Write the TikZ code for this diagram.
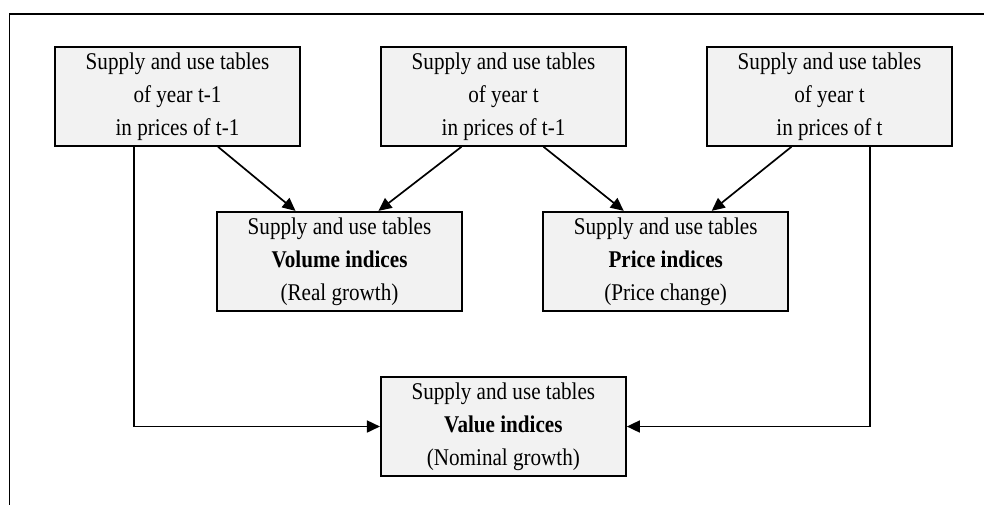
\documentclass[tikz,border=0pt]{standalone}
\usepackage{fontspec}
\setmainfont{Liberation Serif}[FakeStretch=0.88]
\usetikzlibrary{arrows.meta,calc}
\begin{document}
\begin{tikzpicture}[x=1pt,y=-1pt,
  box/.style={draw=black,line width=1.9pt,fill=black!5,minimum width=245pt,minimum height=99pt,
    align=center,inner sep=0pt,font=\fontsize{24}{33}\selectfont},
  conn/.style={draw=black,line width=1.7pt},
  arr/.style={conn,-{Triangle[length=13pt,width=12pt]}}]
\useasboundingbox (0,0) rectangle (984,504);
\fill[white] (0,0) rectangle (984,504);
\begin{scope}
\clip (0,0) rectangle (984,504);
\draw[line width=1.6pt] (9.5,14) rectangle (1000,520);
\end{scope}
\node[box] (b1) at (177.5,96.3) {Supply and use tables\\of year t-1\\in prices of t-1};
\node[box] (b2) at (503.5,96.3) {Supply and use tables\\of year t\\in prices of t-1};
\node[box] (b3) at (829.5,96.3) {Supply and use tables\\of year t\\in prices of t};
\node[box] (vol) at (339.5,261.3) {Supply and use tables\\\textbf{Volume indices}\\(Real growth)};
\node[box] (pri) at (665.7,261.3) {Supply and use tables\\\textbf{Price indices}\\(Price change)};
\node[box] (val) at (503.4,426.5) {Supply and use tables\\\textbf{Value indices}\\(Nominal growth)};
\draw[arr] ($(b1.south)+(40.5,0)$) -- ($(vol.north)+(-44,0)$);
\draw[arr] ($(b2.south)+(-42,0)$) -- ($(vol.north)+(39,0)$);
\draw[arr] ($(b2.south)+(40,0)$) -- ($(pri.north)+(-42,0)$);
\draw[arr] ($(b3.south)+(-38,0)$) -- ($(pri.north)+(46,0)$);
\draw[arr] ($(b1.south)+(-43.5,0)$) |- (val.west);
\draw[arr] ($(b3.south)+(40.5,0)$) |- (val.east);
\end{tikzpicture}
\end{document}
